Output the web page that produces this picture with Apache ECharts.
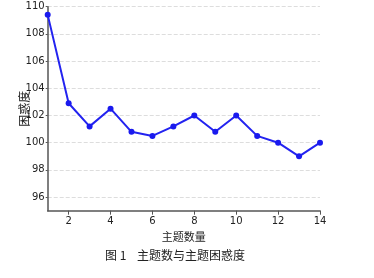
<!DOCTYPE html>
<html><head><meta charset="utf-8">
<script src="https://cdn.jsdelivr.net/npm/echarts@6/dist/echarts.min.js"></script>
<style>html,body{margin:0;padding:0;background:#fff}#c{width:374px;height:278px}</style>
</head><body><div id="c"></div>
<script>
const topics = [1,2,3,4,5,6,7,8,9,10,11,12,13,14];
const perplexity = [109.4,102.9,101.2,102.5,100.8,100.5,101.2,102,100.8,102,100.5,100,99,100];
const xTicks = [2,4,6,8,10,12,14];
const yTicks = [96,98,100,102,104,106,108,110];
const caption = '图 1    主题数与主题困惑度';
const font = '"Noto Sans CJK SC", "DejaVu Sans", sans-serif';
const chart = echarts.init(document.getElementById('c'), null, {renderer:'canvas'});
chart.setOption({
  animation:false,
  backgroundColor:'#fff',
  grid:{left:47.7, right:54, top:6.7, bottom:67.3, containLabel:false, outerBoundsMode:'none'},
  xAxis:{type:'value', min:1, max:14,
    name:'主题数量', nameLocation:'middle', nameGap:20,
    nameTextStyle:{color:'#222', fontSize:11, fontFamily:font},
    axisLine:{show:true, lineStyle:{color:'#555', width:1.5}},
    axisTick:{show:true, customValues:xTicks, length:4, lineStyle:{color:'#555'}},
    axisLabel:{customValues:xTicks, color:'#222', fontSize:10, fontFamily:'DejaVu Sans', margin:6},
    splitLine:{show:false}},
  yAxis:{type:'value', min:95, max:110,
    name:'困惑度', nameLocation:'middle', nameGap:17, nameRotate:90, nameMoveOverlap:false,
    nameTextStyle:{color:'#222', fontSize:12, fontFamily:font},
    axisLine:{show:true, lineStyle:{color:'#555', width:1.5}},
    axisTick:{show:true, customValues:yTicks, length:2, lineStyle:{color:'#555'}},
    axisLabel:{customValues:yTicks, color:'#222', fontSize:10, fontFamily:'DejaVu Sans', margin:3},
    splitLine:{show:true, lineStyle:{color:'#ddd', type:'dashed', width:1}}},
  series:[{type:'line', data:topics.map((t,i)=>[t, perplexity[i]]),
    lineStyle:{color:'#2323f0', width:2}, itemStyle:{color:'#1a1aee'},
    symbol:'circle', symbolSize:6, showSymbol:true}],
  graphic:[{type:'text', left:105, top:249,
    style:{text:caption, fill:'#222', font:'12px '+font}}]
});
</script></body></html>
